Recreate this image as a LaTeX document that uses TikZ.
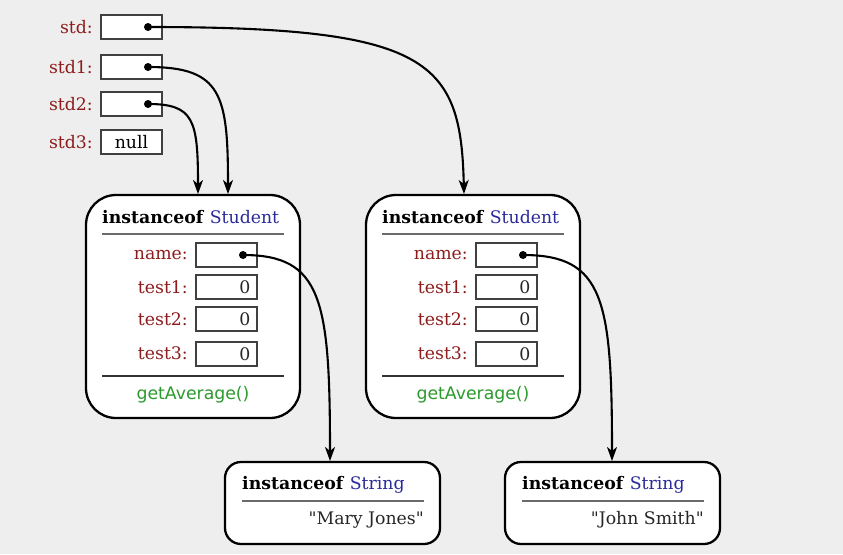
\documentclass[tikz,border=0pt]{standalone}
\usepackage{fontspec}
\setmainfont{DejaVu Serif}[Ligatures=TeXOff]
\setsansfont{DejaVu Sans}
\usetikzlibrary{arrows.meta}
\definecolor{bg}{HTML}{EEEEEE}
\definecolor{lbl}{HTML}{8E1C1C}
\definecolor{cls}{HTML}{2B2B9B}
\definecolor{mth}{HTML}{2C9A2C}
\definecolor{cellline}{HTML}{404040}
\definecolor{sep}{HTML}{6A6A6A}
\tikzset{
  every node/.style={font=\fontsize{17.3}{20}\selectfont, inner sep=0pt},
  varlabel/.style={anchor=east, text=lbl},
  cell/.style={draw=cellline, fill=white, line width=1.3pt, minimum width=61pt, minimum height=24pt},
  val/.style={anchor=east, text=black!85},
  objbox/.style={draw=black, fill=white, line width=2.3pt, rounded corners=30pt},
  strbox/.style={draw=black, fill=white, line width=2.3pt, rounded corners=16pt},
  title/.style={anchor=west},
  sepline/.style={draw=sep, line width=1.8pt},
  ptr/.style={draw=black, line width=2.1pt, -{Stealth[length=14pt,width=10pt,inset=4pt]}},
  dot/.style={fill=black}
}
\begin{document}
\begin{tikzpicture}[x=1pt,y=-1pt]
\fill[bg] (0,0) rectangle (843,554);
\useasboundingbox (0,0) rectangle (843,554);

% variables
\node[varlabel] (l0) at (93,27) {std:};
\node[varlabel] (l1) at (93,67) {std1:};
\node[varlabel] (l2) at (93,104) {std2:};
\node[varlabel] (l3) at (93,142) {std3:};
\node[cell] (c0) at (131.5,27) {};
\node[cell] (c1) at (131.5,67) {};
\node[cell] (c2) at (131.5,104) {};
\node[cell] (c3) at (131.5,142) {null};
\coordinate (d0) at (148,27);
\coordinate (d1) at (148,67);
\coordinate (d2) at (148,104);

% student objects
\foreach \dx/\n in {0/A,280/B}{
  \begin{scope}[xshift=\dx pt]
  \node[objbox, minimum width=214pt, minimum height=223pt] (obj\n) at (193,306.5) {};
  \node[title] (t\n) at (102,217) {\textbf{instanceof} \textcolor{cls}{Student}};
  \path[sepline] (102,234) -- (284,234);
  \node[varlabel] (ln\n) at (188,255) {name:};
  \node[varlabel] (la\n) at (188,287) {test1:};
  \node[varlabel] (lb\n) at (188,319) {test2:};
  \node[varlabel] (lc\n) at (188,353) {test3:};
  \node[cell] (fn\n) at (226.5,255) {};
  \node[cell] (fa\n) at (226.5,287) {};
  \node[cell] (fb\n) at (226.5,319) {};
  \node[cell] (fc\n) at (226.5,354) {};
  \node[val] (va\n) at ([xshift=-7pt]fa\n.east) {0};
  \node[val] (vb\n) at ([xshift=-7pt]fb\n.east) {0};
  \node[val] (vc\n) at ([xshift=-7pt]fc\n.east) {0};
  \path[draw=black!80, line width=1.8pt] (102,376) -- (284,376);
  \node[text=mth, font=\sffamily\fontsize{17.3}{20}\selectfont] (m\n) at (193,395) {getAverage()};
  \coordinate (dn\n) at (243,255);
  \end{scope}
}

% string objects
\node[strbox, minimum width=215pt, minimum height=82pt] (strA) at (332.5,503) {};
\node[title] (stA) at (242,485) {\textbf{instanceof} \textcolor{cls}{String}};
\path[sepline] (242,501) -- (424,501);
\node[anchor=east, text=black!85] (svA) at (424,520) {"Mary Jones"};
\node[strbox, minimum width=215pt, minimum height=82pt] (strB) at (612.5,503) {};
\node[title] (stB) at (522,485) {\textbf{instanceof} \textcolor{cls}{String}};
\path[sepline] (522,501) -- (704,501);
\node[anchor=east, text=black!85] (svB) at (704,520) {"John Smith"};

% dots
\foreach \c in {d0,d1,d2,dnA,dnB} \fill[dot] (\c) circle (4pt);

% endpoints
\coordinate (e0) at (464,194);
\coordinate (e1) at (228,194);
\coordinate (e2) at (198,194);
\coordinate (eA) at (330,461);
\coordinate (eB) at (612,461);

\draw[ptr] (d0) .. controls (430,27) and (461,60) .. (e0);
\draw[ptr] (d1) .. controls (222,67) and (228,95) .. (e1);
\draw[ptr] (d2) .. controls (194,104) and (198,120) .. (e2);
\draw[ptr] (dnA) .. controls (322,255) and (330,300) .. (eA);
\draw[ptr] (dnB) .. controls (604,255) and (612,300) .. (eB);
\end{tikzpicture}
\end{document}
